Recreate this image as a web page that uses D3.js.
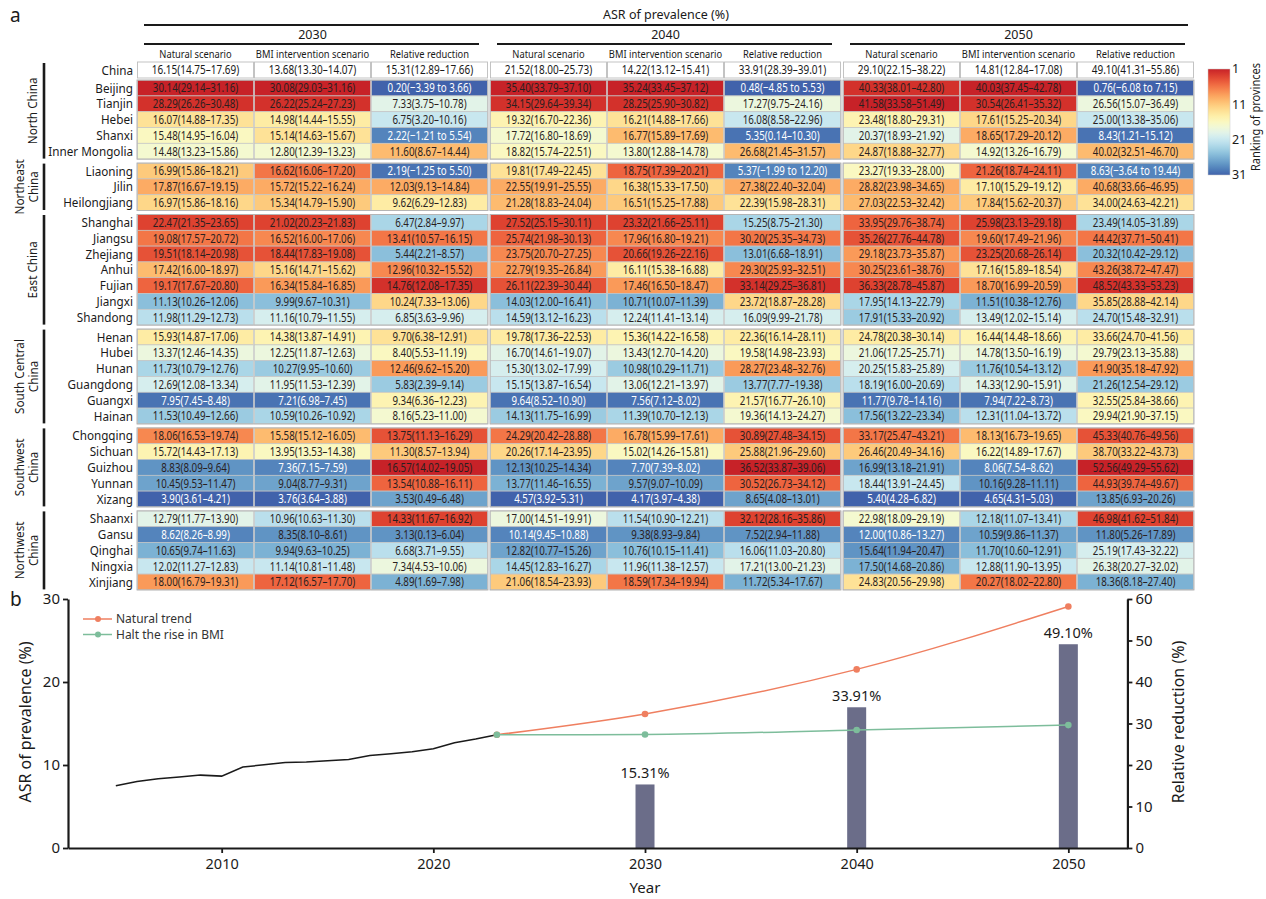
<!DOCTYPE html>
<html>
<head>
<meta charset="utf-8">
<script src="https://cdn.jsdelivr.net/npm/d3@7/dist/d3.min.js"></script>
<style>
  body { margin: 0; background: #fff; }
  svg { font-family: "Noto Sans", "Open Sans", sans-serif; }
</style>
</head>
<body>
<div id="chart"></div>
<script>
// ---- panel a data ----
var regions = [["North China"], ["Northeast", "China"], ["East China"], ["South Central", "China"], ["Southwest", "China"], ["Northwest", "China"]];
var regionSize = [5, 3, 7, 6, 5, 5];
var provinces = ["Beijing", "Tianjin", "Hebei", "Shanxi", "Inner Mongolia",
  "Liaoning", "Jilin", "Heilongjiang",
  "Shanghai", "Jiangsu", "Zhejiang", "Anhui", "Fujian", "Jiangxi", "Shandong",
  "Henan", "Hubei", "Hunan", "Guangdong", "Guangxi", "Hainan",
  "Chongqing", "Sichuan", "Guizhou", "Yunnan", "Xizang",
  "Shaanxi", "Gansu", "Qinghai", "Ningxia", "Xinjiang"];
var years = ["2030", "2040", "2050"];
var colHeads = ["Natural scenario", "BMI intervention scenario", "Relative reduction"];
var chinaRow = ["16.15(14.75–17.69)", "13.68(13.30–14.07)", "15.31(12.89–17.66)",
  "21.52(18.00–25.73)", "14.22(13.12–15.41)", "33.91(28.39–39.01)",
  "29.10(22.15–38.22)", "14.81(12.84–17.08)", "49.10(41.31–55.86)"];

var nat2030 = ["30.14(29.14–31.16)", "28.29(26.26–30.48)", "16.07(14.88–17.35)", "15.48(14.95–16.04)", "14.48(13.23–15.86)",
  "16.99(15.86–18.21)", "17.87(16.67–19.15)", "16.97(15.86–18.16)",
  "22.47(21.35–23.65)", "19.08(17.57–20.72)", "19.51(18.14–20.98)", "17.42(16.00–18.97)", "19.17(17.67–20.80)", "11.13(10.26–12.06)", "11.98(11.29–12.73)",
  "15.93(14.87–17.06)", "13.37(12.46–14.35)", "11.73(10.79–12.76)", "12.69(12.08–13.34)", "7.95(7.45–8.48)", "11.53(10.49–12.66)",
  "18.06(16.53–19.74)", "15.72(14.43–17.13)", "8.83(8.09–9.64)", "10.45(9.53–11.47)", "3.90(3.61–4.21)",
  "12.79(11.77–13.90)", "8.62(8.26–8.99)", "10.65(9.74–11.63)", "12.02(11.27–12.83)", "18.00(16.79–19.31)"];
var bmi2030 = ["30.08(29.03–31.16)", "26.22(25.24–27.23)", "14.98(14.44–15.55)", "15.14(14.63–15.67)", "12.80(12.39–13.23)",
  "16.62(16.06–17.20)", "15.72(15.22–16.24)", "15.34(14.79–15.90)",
  "21.02(20.23–21.83)", "16.52(16.00–17.06)", "18.44(17.83–19.08)", "15.16(14.71–15.62)", "16.34(15.84–16.85)", "9.99(9.67–10.31)", "11.16(10.79–11.55)",
  "14.38(13.87–14.91)", "12.25(11.87–12.63)", "10.27(9.95–10.60)", "11.95(11.53–12.39)", "7.21(6.98–7.45)", "10.59(10.26–10.92)",
  "15.58(15.12–16.05)", "13.95(13.53–14.38)", "7.36(7.15–7.59)", "9.04(8.77–9.31)", "3.76(3.64–3.88)",
  "10.96(10.63–11.30)", "8.35(8.10–8.61)", "9.94(9.63–10.25)", "11.14(10.81–11.48)", "17.12(16.57–17.70)"];
var rr2030 = ["0.20(−3.39 to 3.66)", "7.33(3.75–10.78)", "6.75(3.20–10.16)", "2.22(−1.21 to 5.54)", "11.60(8.67–14.44)",
  "2.19(−1.25 to 5.50)", "12.03(9.13–14.84)", "9.62(6.29–12.83)",
  "6.47(2.84–9.97)", "13.41(10.57–16.15)", "5.44(2.21–8.57)", "12.96(10.32–15.52)", "14.76(12.08–17.35)", "10.24(7.33–13.06)", "6.85(3.63–9.96)",
  "9.70(6.38–12.91)", "8.40(5.53–11.19)", "12.46(9.62–15.20)", "5.83(2.39–9.14)", "9.34(6.36–12.23)", "8.16(5.23–11.00)",
  "13.75(11.13–16.29)", "11.30(8.57–13.94)", "16.57(14.02–19.05)", "13.54(10.88–16.11)", "3.53(0.49–6.48)",
  "14.33(11.67–16.92)", "3.13(0.13–6.04)", "6.68(3.71–9.55)", "7.34(4.53–10.06)", "4.89(1.69–7.98)"];
var nat2040 = ["35.40(33.79–37.10)", "34.15(29.64–39.34)", "19.32(16.70–22.36)", "17.72(16.80–18.69)", "18.82(15.74–22.51)",
  "19.81(17.49–22.45)", "22.55(19.91–25.55)", "21.28(18.83–24.04)",
  "27.52(25.15–30.11)", "25.74(21.98–30.13)", "23.75(20.70–27.25)", "22.79(19.35–26.84)", "26.11(22.39–30.44)", "14.03(12.00–16.41)", "14.59(13.12–16.23)",
  "19.78(17.36–22.53)", "16.70(14.61–19.07)", "15.30(13.02–17.99)", "15.15(13.87–16.54)", "9.64(8.52–10.90)", "14.13(11.75–16.99)",
  "24.29(20.42–28.88)", "20.26(17.14–23.95)", "12.13(10.25–14.34)", "13.77(11.46–16.55)", "4.57(3.92–5.31)",
  "17.00(14.51–19.91)", "10.14(9.45–10.88)", "12.82(10.77–15.26)", "14.45(12.83–16.27)", "21.06(18.54–23.93)"];
var bmi2040 = ["35.24(33.45–37.12)", "28.25(25.90–30.82)", "16.21(14.88–17.66)", "16.77(15.89–17.69)", "13.80(12.88–14.78)",
  "18.75(17.39–20.21)", "16.38(15.33–17.50)", "16.51(15.25–17.88)",
  "23.32(21.66–25.11)", "17.96(16.80–19.21)", "20.66(19.26–22.16)", "16.11(15.38–16.88)", "17.46(16.50–18.47)", "10.71(10.07–11.39)", "12.24(11.41–13.14)",
  "15.36(14.22–16.58)", "13.43(12.70–14.20)", "10.98(10.29–11.71)", "13.06(12.21–13.97)", "7.56(7.12–8.02)", "11.39(10.70–12.13)",
  "16.78(15.99–17.61)", "15.02(14.26–15.81)", "7.70(7.39–8.02)", "9.57(9.07–10.09)", "4.17(3.97–4.38)",
  "11.54(10.90–12.21)", "9.38(8.93–9.84)", "10.76(10.15–11.41)", "11.96(11.38–12.57)", "18.59(17.34–19.94)"];
var rr2040 = ["0.48(−4.85 to 5.53)", "17.27(9.75–24.16)", "16.08(8.58–22.96)", "5.35(0.14–10.30)", "26.68(21.45–31.57)",
  "5.37(−1.99 to 12.20)", "27.38(22.40–32.04)", "22.39(15.98–28.31)",
  "15.25(8.75–21.30)", "30.20(25.35–34.73)", "13.01(6.68–18.91)", "29.30(25.93–32.51)", "33.14(29.25–36.81)", "23.72(18.87–28.28)", "16.09(9.99–21.78)",
  "22.36(16.14–28.11)", "19.58(14.98–23.93)", "28.27(23.48–32.76)", "13.77(7.77–19.38)", "21.57(16.77–26.10)", "19.36(14.13–24.27)",
  "30.89(27.48–34.15)", "25.88(21.96–29.60)", "36.52(33.87–39.06)", "30.52(26.73–34.12)", "8.65(4.08–13.01)",
  "32.12(28.16–35.86)", "7.52(2.94–11.88)", "16.06(11.03–20.80)", "17.21(13.00–21.23)", "11.72(5.34–17.67)"];
var nat2050 = ["40.33(38.01–42.80)", "41.58(33.58–51.49)", "23.48(18.80–29.31)", "20.37(18.93–21.92)", "24.87(18.88–32.77)",
  "23.27(19.33–28.00)", "28.82(23.98–34.65)", "27.03(22.53–32.42)",
  "33.95(29.76–38.74)", "35.26(27.76–44.78)", "29.18(23.73–35.87)", "30.25(23.61–38.76)", "36.33(28.78–45.87)", "17.95(14.13–22.79)", "17.91(15.33–20.92)",
  "24.78(20.38–30.14)", "21.06(17.25–25.71)", "20.25(15.83–25.89)", "18.19(16.00–20.69)", "11.77(9.78–14.16)", "17.56(13.22–23.34)",
  "33.17(25.47–43.21)", "26.46(20.49–34.16)", "16.99(13.18–21.91)", "18.44(13.91–24.45)", "5.40(4.28–6.82)",
  "22.98(18.09–29.19)", "12.00(10.86–13.27)", "15.64(11.94–20.47)", "17.50(14.68–20.86)", "24.83(20.56–29.98)"];
var bmi2050 = ["40.03(37.45–42.78)", "30.54(26.41–35.32)", "17.61(15.25–20.34)", "18.65(17.29–20.12)", "14.92(13.26–16.79)",
  "21.26(18.74–24.11)", "17.10(15.29–19.12)", "17.84(15.62–20.37)",
  "25.98(23.13–29.18)", "19.60(17.49–21.96)", "23.25(20.68–26.14)", "17.16(15.89–18.54)", "18.70(16.99–20.59)", "11.51(10.38–12.76)", "13.49(12.02–15.14)",
  "16.44(14.48–18.66)", "14.78(13.50–16.19)", "11.76(10.54–13.12)", "14.33(12.90–15.91)", "7.94(7.22–8.73)", "12.31(11.04–13.72)",
  "18.13(16.73–19.65)", "16.22(14.89–17.67)", "8.06(7.54–8.62)", "10.16(9.28–11.11)", "4.65(4.31–5.03)",
  "12.18(11.07–13.41)", "10.59(9.86–11.37)", "11.70(10.60–12.91)", "12.88(11.90–13.95)", "20.27(18.02–22.80)"];
var rr2050 = ["0.76(−6.08 to 7.15)", "26.56(15.07–36.49)", "25.00(13.38–35.06)", "8.43(1.21–15.12)", "40.02(32.51–46.70)",
  "8.63(−3.64 to 19.44)", "40.68(33.66–46.95)", "34.00(24.63–42.21)",
  "23.49(14.05–31.89)", "44.42(37.71–50.41)", "20.32(10.42–29.12)", "43.26(38.72–47.47)", "48.52(43.33–53.23)", "35.85(28.88–42.14)", "24.70(15.48–32.91)",
  "33.66(24.70–41.56)", "29.79(23.13–35.88)", "41.90(35.18–47.92)", "21.26(12.54–29.12)", "32.55(25.84–38.66)", "29.94(21.90–37.15)",
  "45.33(40.76–49.56)", "38.70(33.22–43.73)", "52.56(49.29–55.62)", "44.93(39.74–49.67)", "13.85(6.93–20.26)",
  "46.98(41.62–51.84)", "11.80(5.26–17.89)", "25.19(17.43–32.22)", "26.38(20.27–32.02)", "18.36(8.18–27.40)"];
var columns = [nat2030, bmi2030, rr2030, nat2040, bmi2040, rr2040, nat2050, bmi2050, rr2050];
var rankTicks = [1, 11, 21, 31];

// ---- panel b data ----
var histYears = [2005, 2006, 2007, 2008, 2009, 2010, 2011, 2012, 2013, 2014, 2015, 2016, 2017, 2018, 2019, 2020, 2021, 2022, 2023];
var histASR = [7.50, 8.02, 8.34, 8.54, 8.78, 8.66, 9.75, 10.03, 10.31, 10.35, 10.51, 10.67, 11.15, 11.35, 11.59, 11.95, 12.68, 13.12, 13.64];
var projYears = [2023, 2030, 2040, 2050];
var naturalTrend = [13.64, 16.15, 21.52, 29.10];
var haltBMI = [13.64, 13.68, 14.22, 14.81];
var barYears = [2030, 2040, 2050];
var reduction = [15.31, 33.91, 49.10];
var seriesNames = ["Natural trend", "Halt the rise in BMI"];

var W = 1266, H = 899;
var svg = d3.select("#chart").append("svg").attr("width", W).attr("height", H);

// ================= panel a =================
var ink = "#1a1a1a";
var blockX = d3.scaleBand().domain(years).range([137, 1194]).paddingInner(2 / 353);
var colX = d3.scaleBand().domain([0, 1, 2]).range([0, blockX.bandwidth()]);
var rowH = 15.8, groupGap = 4;
var rowStep = d3.scaleLinear().domain([0, 1]).range([80.1, 80.1 + rowH]);

var rankT = d3.scaleLinear().domain([1, 31]).range([0.07, 0.93]);
function rankColor(r) { return d3.interpolateRdYlBu(rankT(r)); }

// row tops
var rowTop = [];
var k = 0;
regionSize.forEach(function (n, g) {
  for (var i = 0; i < n; i++) {
    rowTop.push(rowStep(k) + g * groupGap);
    k++;
  }
});

// ranks per column (1 = highest)
var ranks = columns.map(function (col) {
  var vals = col.map(function (s) { return parseFloat(s); });
  var order = d3.range(vals.length).sort(function (a, b) { return vals[b] - vals[a]; });
  var r = new Array(vals.length);
  order.forEach(function (idx, i) { r[idx] = i + 1; });
  return r;
});

function cellX(ci) { return blockX(years[Math.floor(ci / 3)]) + colX(ci % 3); }

var tbl = svg.append("g");

// China row
chinaRow.forEach(function (s, ci) {
  var x = cellX(ci);
  tbl.append("rect").attr("x", x + 0.5).attr("y", 62).attr("width", colX.bandwidth() - 1).attr("height", 16)
    .attr("fill", "#fff").attr("stroke", "#bdbdbd").attr("stroke-width", 0.9);
  tbl.append("text").attr("transform", "translate(" + (x + colX.bandwidth() / 2) + ",70) scale(0.8,1)")
    .attr("text-anchor", "middle").attr("dy", "0.35em").attr("font-size", 12.5).attr("fill", ink).text(s);
});
tbl.append("text").attr("transform", "translate(133,70) scale(0.9,1)").attr("text-anchor", "end")
  .attr("dy", "0.35em").attr("font-size", 13).attr("fill", ink).text("China");

// province cells
columns.forEach(function (col, ci) {
  var x = cellX(ci);
  tbl.selectAll(null).data(col).enter().append("rect")
    .attr("x", x + 0.4).attr("y", function (d, i) { return rowTop[i]; })
    .attr("width", colX.bandwidth() - 0.8).attr("height", rowH)
    .attr("fill", function (d, i) { return rankColor(ranks[ci][i]); })
    .attr("stroke", "#c4c4c4").attr("stroke-width", 0.7);
  tbl.selectAll(null).data(col).enter().append("text")
    .attr("transform", function (d, i) { return "translate(" + (x + colX.bandwidth() / 2) + "," + (rowTop[i] + rowH / 2) + ") scale(0.78,1)"; })
    .attr("text-anchor", "middle").attr("dy", "0.35em").attr("font-size", 12.5)
    .attr("fill", function (d, i) { return ranks[ci][i] >= 29 ? "#fff" : "#2a1f1f"; })
    .text(function (d) { return d; });
});

// group outlines
regionSize.forEach(function (n, g) {
  var first = d3.sum(regionSize.slice(0, g));
  var top = rowTop[first], bottom = rowTop[first + n - 1] + rowH;
  years.forEach(function (yr) {
    tbl.append("rect").attr("x", blockX(yr)).attr("y", top).attr("width", blockX.bandwidth()).attr("height", bottom - top)
      .attr("fill", "none").attr("stroke", "#b5b5b5").attr("stroke-width", 1);
  });
});

// province labels
tbl.selectAll(null).data(provinces).enter().append("text")
  .attr("transform", function (d, i) { return "translate(133," + (rowTop[i] + rowH / 2) + ") scale(0.9,1)"; })
  .attr("text-anchor", "end").attr("dy", "0.35em").attr("font-size", 13).attr("fill", ink)
  .text(function (d) { return d; });

// region bars + labels
regions.forEach(function (lines, g) {
  var first = d3.sum(regionSize.slice(0, g));
  var top = g === 0 ? 63 : rowTop[first] + 0.5;
  var bottom = rowTop[first + regionSize[g] - 1] + rowH - 0.5;
  tbl.append("line").attr("x1", 44).attr("x2", 44).attr("y1", top).attr("y2", bottom)
    .attr("stroke", ink).attr("stroke-width", 2.6);
  var cy = (top + bottom) / 2;
  lines.forEach(function (ln, li) {
    var xx = lines.length === 1 ? 32 : 19 + li * 14.5;
    tbl.append("text").attr("transform", "translate(" + xx + "," + cy + ") rotate(-90) scale(0.9,1)")
      .attr("text-anchor", "middle").attr("dy", "0.35em").attr("font-size", 13).attr("fill", ink).text(ln);
  });
});

// headers
svg.append("text").attr("x", 10).attr("y", 22).attr("font-size", 19).attr("fill", ink).text("a");
svg.append("text").attr("x", 666).attr("y", 15).attr("dy", "0.35em").attr("text-anchor", "middle")
  .attr("font-size", 12.5).attr("fill", ink).text("ASR of prevalence (%)");
svg.append("line").attr("x1", 144).attr("x2", 1188).attr("y1", 25).attr("y2", 25).attr("stroke", ink).attr("stroke-width", 1.8);
years.forEach(function (yr) {
  var bx = blockX(yr);
  svg.append("text").attr("x", bx + blockX.bandwidth() / 2).attr("y", 35).attr("dy", "0.35em").attr("text-anchor", "middle")
    .attr("font-size", 12.5).attr("fill", ink).text(yr);
  svg.append("line").attr("x1", bx + 7).attr("x2", bx + blockX.bandwidth() - 9).attr("y1", 44).attr("y2", 44)
    .attr("stroke", ink).attr("stroke-width", 1.8);
  colHeads.forEach(function (h, ci) {
    svg.append("text").attr("transform", "translate(" + (bx + colX(ci) + colX.bandwidth() / 2) + ",54) scale(0.85,1)")
      .attr("dy", "0.35em").attr("text-anchor", "middle").attr("font-size", 11).attr("fill", ink).text(h);
  });
});

// colour legend
var defs = svg.append("defs");
var grad = defs.append("linearGradient").attr("id", "rankGrad").attr("x1", 0).attr("x2", 0).attr("y1", 0).attr("y2", 1);
d3.range(0, 1.0001, 0.05).forEach(function (t) {
  grad.append("stop").attr("offset", t).attr("stop-color", rankColor(1 + t * 30));
});
var legY = d3.scaleLinear().domain([1, 31]).range([69, 175]);
svg.append("rect").attr("x", 1208).attr("y", legY(1)).attr("width", 22).attr("height", legY(31) - legY(1))
  .attr("fill", "url(#rankGrad)").attr("stroke", "#ccc").attr("stroke-width", 0.5);
svg.selectAll(null).data(rankTicks).enter().append("text")
  .attr("x", 1232).attr("y", function (d) { return legY(d); }).attr("dy", "0.35em")
  .attr("font-size", 12.5).attr("fill", ink).text(function (d) { return d; });
svg.append("text").attr("transform", "translate(1255,117) rotate(-90) scale(0.85,1)")
  .attr("text-anchor", "middle").attr("dy", "0.35em").attr("font-size", 13).attr("fill", ink).text("Ranking of provinces");

// ================= panel b =================
var x = d3.scaleLinear().domain([2002.74, 2052.79]).range([68, 1127.4]);
var yL = d3.scaleLinear().domain([0, 30]).range([848, 599]);
var yR = d3.scaleLinear().domain([0, 60]).range([848, 599]);
var pb = svg.append("g");

svg.append("text").attr("x", 10).attr("y", 606).attr("font-size", 19).attr("fill", ink).text("b");

// bars
pb.selectAll(null).data(barYears).enter().append("rect")
  .attr("x", function (d) { return x(d) - 9.5; }).attr("width", 19)
  .attr("y", function (d, i) { return yR(reduction[i]); })
  .attr("height", function (d, i) { return yR(0) - yR(reduction[i]); })
  .attr("fill", "#6b6d89");
pb.selectAll(null).data(barYears).enter().append("text")
  .attr("x", function (d) { return x(d); }).attr("y", function (d, i) { return yR(reduction[i]) - 6; })
  .attr("text-anchor", "middle").attr("font-size", 14.5).attr("fill", ink)
  .text(function (d, i) { return reduction[i].toFixed(2) + "%"; });

// lines
var histLine = d3.line().x(function (d, i) { return x(histYears[i]); }).y(function (d) { return yL(d); });
pb.append("path").datum(histASR).attr("d", histLine).attr("fill", "none").attr("stroke", "#1a1a1a").attr("stroke-width", 1.5);

var projLine = d3.line().curve(d3.curveMonotoneX)
  .x(function (d, i) { return x(projYears[i]); }).y(function (d) { return yL(d); });
var seriesColors = ["#ef7f60", "#7dbd9b"];
[naturalTrend, haltBMI].forEach(function (s, si) {
  pb.append("path").datum(s).attr("d", projLine).attr("fill", "none")
    .attr("stroke", seriesColors[si]).attr("stroke-width", 1.5);
  pb.selectAll(null).data(s).enter().append("circle")
    .attr("cx", function (d, i) { return x(projYears[i]); }).attr("cy", function (d) { return yL(d); })
    .attr("r", 3.3).attr("fill", seriesColors[si]);
});

// axes
function styleAxis(g) {
  g.selectAll(".domain").attr("stroke", ink).attr("stroke-width", 2.2);
  g.selectAll(".tick line").attr("stroke", ink).attr("stroke-width", 1.8);
  g.selectAll(".tick text").attr("fill", ink).attr("font-size", 15).attr("font-family", "'Noto Sans', sans-serif");
}
pb.append("g").attr("transform", "translate(68,0)")
  .call(d3.axisLeft(yL).tickValues([0, 10, 20, 30]).tickSize(5).tickSizeOuter(0).tickPadding(3))
  .call(styleAxis);
pb.append("g").attr("transform", "translate(1127.4,0)")
  .call(d3.axisRight(yR).tickValues([0, 10, 20, 30, 40, 50, 60]).tickSize(5).tickSizeOuter(0).tickPadding(3))
  .call(styleAxis);
pb.append("g").attr("transform", "translate(0,848)")
  .call(d3.axisBottom(x).tickValues([2010, 2020, 2030, 2040, 2050]).tickFormat(d3.format("d")).tickSize(5).tickSizeOuter(0).tickPadding(6))
  .call(styleAxis)
  .selectAll(".tick text").attr("font-size", 14.5);

pb.append("text").attr("transform", "translate(25,722) rotate(-90)").attr("text-anchor", "middle").attr("dy", "0.35em")
  .attr("font-size", 16).attr("fill", ink).text("ASR of prevalence (%)");
pb.append("text").attr("transform", "translate(1178,722) rotate(-90)").attr("text-anchor", "middle").attr("dy", "0.35em")
  .attr("font-size", 16).attr("fill", ink).text("Relative reduction (%)");
pb.append("text").attr("x", x(2030)).attr("y", 893).attr("text-anchor", "middle").attr("font-size", 15)
  .attr("fill", ink).text("Year");

// legend b
seriesNames.forEach(function (nm, si) {
  var ly = 619 + si * 15.5;
  pb.append("line").attr("x1", 83).attr("x2", 112).attr("y1", ly).attr("y2", ly).attr("stroke", seriesColors[si]).attr("stroke-width", 1.5);
  pb.append("circle").attr("cx", 98).attr("cy", ly).attr("r", 3).attr("fill", seriesColors[si]);
  pb.append("text").attr("x", 116).attr("y", ly).attr("dy", "0.35em").attr("font-size", 12)
    .attr("fill", "#333").text(nm);
});
</script>
</body>
</html>
